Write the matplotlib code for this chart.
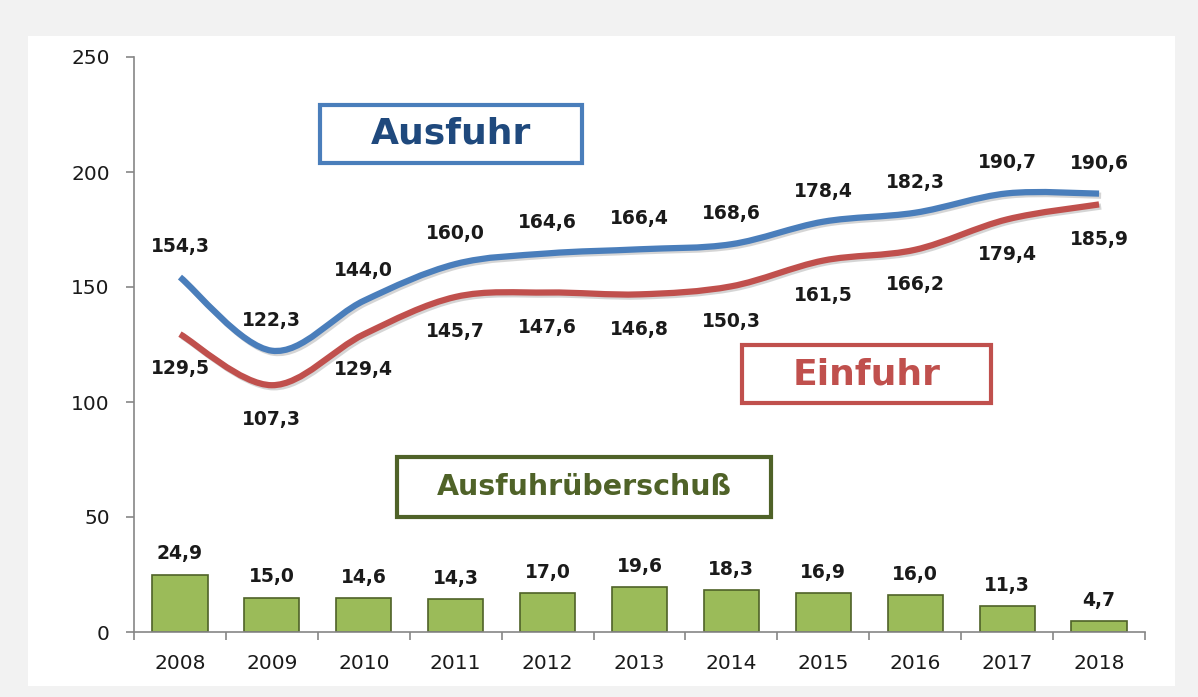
import matplotlib.pyplot as plt
import numpy as np
from matplotlib.path import Path
from matplotlib.patches import PathPatch, Rectangle
import matplotlib.patheffects as pe

years = ["2008", "2009", "2010", "2011", "2012", "2013", "2014", "2015", "2016", "2017", "2018"]
ausfuhr = [154.3, 122.3, 144.0, 160.0, 164.6, 166.4, 168.6, 178.4, 182.3, 190.7, 190.6]
einfuhr = [129.5, 107.3, 129.4, 145.7, 147.6, 146.8, 150.3, 161.5, 166.2, 179.4, 185.9]
ueberschuss = [24.9, 15.0, 14.6, 14.3, 17.0, 19.6, 18.3, 16.9, 16.0, 11.3, 4.7]

BLUE = "#4a7ebb"
RED = "#c0504d"
GREEN = "#9bbb59"
DKGREEN = "#4f6228"
DKBLUE = "#1f497d"
GRAY = "#868686"


def fmt(v):
    return f"{v:.1f}".replace(".", ",")


def smooth_path(xs, ys):
    # excel-like smoothed line: catmull-rom as cubic bezier segments
    pts = np.column_stack([xs, ys]).astype(float)
    ext = np.vstack([pts[0], pts, pts[-1]])
    verts = [pts[0]]
    codes = [Path.MOVETO]
    for i in range(len(pts) - 1):
        p0, p1, p2, p3 = ext[i], ext[i + 1], ext[i + 2], ext[i + 3]
        c1 = p1 + (p2 - p0) / 6
        c2 = p2 - (p3 - p1) / 6
        verts += [c1, c2, p2]
        codes += [Path.CURVE4] * 3
    return Path(verts, codes)


fig = plt.figure(figsize=(11.98, 6.97), dpi=100)
fig.patch.set_facecolor("#f2f2f2")
fig.patches.append(Rectangle((28 / 1198, 1 - 686 / 697), (1175 - 28) / 1198, (686 - 36) / 697,
                             transform=fig.transFigure, fc="white", ec="none", zorder=-5))

ax = fig.add_axes([134 / 1198, 65 / 697, 1011 / 1198, 575 / 697])
ax.set_facecolor("none")
x = np.arange(len(years))

ax.bar(x, ueberschuss, width=0.6, color=GREEN, edgecolor=DKGREEN, linewidth=1.2, zorder=2)
for xi, v in zip(x, ueberschuss):
    ax.annotate(fmt(v), (xi, v), xytext=(0, 15), textcoords="offset points",
                ha="center", va="center", fontsize=13.5, fontweight="bold", color="#1a1a1a")

shadow = [pe.SimpleLineShadow(offset=(1.5, -1.5), shadow_color="#777777", alpha=0.3), pe.Normal()]
for vals, col in [(einfuhr, RED), (ausfuhr, BLUE)]:
    patch = PathPatch(smooth_path(x, vals), fc="none", ec=col, lw=4.5, capstyle="butt", zorder=3)
    patch.set_path_effects(shadow)
    ax.add_patch(patch)

for xi, v in zip(x, ausfuhr):
    ax.annotate(fmt(v), (xi, v), xytext=(0, 22), textcoords="offset points",
                ha="center", va="center", fontsize=13.5, fontweight="bold", color="#1a1a1a")
for xi, v in zip(x, einfuhr):
    ax.annotate(fmt(v), (xi, v), xytext=(0, -25), textcoords="offset points",
                ha="center", va="center", fontsize=13.5, fontweight="bold", color="#1a1a1a")

# legend-like boxes
boxes = [
    ("Ausfuhr", DKBLUE, BLUE, (0.184, 0.8157, 0.259, 0.1008), 26),
    ("Einfuhr", RED, RED, (0.601, 0.398, 0.247, 0.101), 26),
    ("Ausfuhrüberschuß", DKGREEN, DKGREEN, (0.260, 0.200, 0.370, 0.1043), 20.5),
]
for label, tcol, ecol, (bx, by, bw, bh), fs in boxes:
    ax.add_patch(Rectangle((bx, by), bw, bh, transform=ax.transAxes, fc="white",
                           ec=ecol, lw=3.0, zorder=4))
    ax.text(bx + bw / 2, by + bh / 2, label, transform=ax.transAxes, ha="center", va="center",
            fontsize=fs, fontweight="bold", color=tcol, zorder=5)

ax.set_xlim(-0.5, len(years) - 0.5)
ax.set_ylim(0, 250)
ax.set_yticks(range(0, 251, 50))
ax.set_xticks(x)
ax.set_xticklabels(years)
ax.set_xticks(np.arange(-0.5, len(years)), minor=True)
ax.tick_params(axis="x", which="major", length=0, pad=16, labelsize=14.5, labelcolor="#1a1a1a")
ax.tick_params(axis="x", which="minor", length=6, width=1.2, color=GRAY)
ax.tick_params(axis="y", length=6, width=1.2, color=GRAY, pad=11.5, labelsize=14.5, labelcolor="#1a1a1a")
for s in ["top", "right"]:
    ax.spines[s].set_visible(False)
for s in ["left", "bottom"]:
    ax.spines[s].set_color(GRAY)
    ax.spines[s].set_linewidth(1.2)

fig.savefig("out.png", dpi=100, facecolor=fig.get_facecolor())
